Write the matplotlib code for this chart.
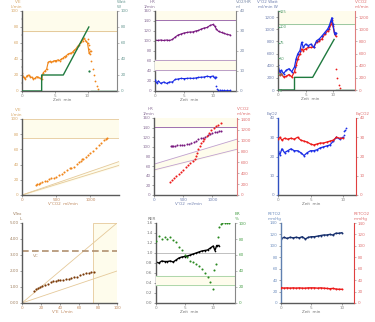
import matplotlib
matplotlib.use("Agg")
import matplotlib.pyplot as plt
import numpy as np

# ---------------- data ----------------
# Panel 1: VE and work vs time
t1 = [0,0.25,0.5,0.75,1,1.25,1.5,1.75,2,2.25,2.5,2.75,3,3.25,3.5,3.75,4,4.25,4.5,4.75,5,5.25,5.5,5.75,6,6.25,6.5,6.75,7,7.25,7.5,7.75,8,8.25,8.5,8.75,9,9.25,9.5,9.75,10,10.25,10.5]
ve1 = [22,17,15,19,20,18,17,15,16,18,17,16,15,23,25,27,36,37,36,37,38,38,39,38,40,41,43,44,46,47,47,49,51,53,56,58,61,63,66,62,60,47,50]
t1_rec = [10.1,10.2,10.3,10.4,10.6,10.8,11.0,11.2,11.4,11.6]
ve1_rec = [65,58,52,46,38,28,20,12,6,2]
t_work = [0,3,3,6.3,10.2]
work = [0,0,20,20,80]
t_work_rec = [10.3]
work_rec = [25]
t_work_end = [10.5,14.5]
work_end = [0,0]

# Panel 2: HR and O2 pulse vs time
t2 = [0,0.5,1,1.5,2,2.5,3,3.5,4,4.5,5,5.5,6,6.5,7,7.5,8,8.5,9,9.5,10,10.3,10.6,11,11.5,12,12.5,13]
hr2 = [102,101,102,101,102,101,103,108,112,114,116,117,118,118,120,121,124,126,127,131,133,130,124,119,117,115,113,112]
t2p = [0,0.3,0.6,1,1.5,2,2.5,3,3.5,4,4.5,5,5.5,6,6.5,7,7.5,8,8.5,9,9.5,10,10.3,10.5]
o2p = [5.5,4.0,5.0,3.8,4.5,3.8,4.5,4.5,5.8,6.0,6.3,6.2,6.3,6.4,6.3,6.5,6.8,6.9,7.0,7.4,7.1,7.5,6.5,7.0]
t2p_rec = [10.55,10.7,10.9,11.2,11.6,12.0,12.5,13.0]
o2p_rec = [2.5,1.2,0.6,0.4,0.3,0.3,0.3,0.3]

# Panel 3: VO2, VCO2 vs time
t3 = [0,0.3,0.6,1,1.5,2,2.5,3,3.3,3.6,4,4.3,4.6,5,5.5,6,6.5,7,7.5,8,8.5,9,9.3,9.6,9.8,10,10.3,10.5]
vo2_3 = [405,300,325,270,325,350,300,380,515,595,650,785,700,755,730,755,700,810,840,890,945,1000,1050,1135,1190,1080,920,945]
vco2_3 = [300,245,270,215,225,255,215,300,405,515,595,675,650,675,700,700,710,785,810,840,920,970,1000,1080,1160,1050,920,890]
t3_rec = [10.6,10.75,11.0,11.3]
vo2_3rec = [350,190,80,25]

# Panel 4: VE vs VCO2
vco2_4 = [200,220,250,270,300,330,360,400,430,470,500,540,580,620,660,700,720,760,800,830,860,880,900,930,960,1000,1040,1080,1120,1160,1200,1230,1250]
ve_4 = [13,14,15,15.5,17,18,19,21,22,23,24,26,28,30,33,35,35,37,41,43,45,47,48,50,52,55,58,62,66,69,72,74,75]

# Panel 5: HR and VCO2 vs VO2
vo2_5 = [290,310,330,360,400,440,480,520,560,600,640,680,720,760,800,840,880,920,960,1000,1040,1080,1120,1150]
hr_5 = [102,102,101,102,103,103,104,104,105,107,109,111,113,116,118,119,121,124,126,128,130,131,132,133]
vo2_5r = [270,300,340,380,420,460,500,540,580,620,660,700,720,740,760,780,800,830,860,900,940,980,1020,1060,1100,1150]
vco2_5r = [240,270,310,350,390,430,470,510,550,590,630,670,720,780,850,910,950,1000,1040,1090,1140,1190,1230,1270,1300,1330]

# Panel 6: EqO2, EqCO2 vs time
t6 = [0,0.3,0.6,1,1.5,2,2.5,3,3.5,4,4.5,5,5.5,6,6.5,7,7.5,8,8.5,9,9.5,10]
eqo2 = [23,21,24,22,23,24,23,23,22,20.5,22,23,23,23.5,24.5,25,25.5,26,28,30,29,30]
eqco2 = [29,30,28.5,29.5,29,29.5,29,30,28.5,28,27.5,26.5,26,26.5,27,27,27.5,28,28.5,30,29.5,29.5]
t6_end = [10.1,10.2,10.3,10.4]
eqo2_end = [31,33,34,35]

# Panel 7: VT vs VE
ve_7 = [13,15,17,19,21,24,27,30,33,36,38,40,43,46,49,52,55,58,61,64,67,70,73,76]
vt_7 = [0.75,0.85,0.95,1.0,1.05,1.12,1.2,1.3,1.35,1.4,1.42,1.45,1.43,1.48,1.52,1.55,1.6,1.65,1.72,1.8,1.85,1.9,1.93,1.95]

# Panel 8: RER and BR vs time
t8 = [0,0.5,1,1.5,2,2.5,3,3.5,4,4.5,5,5.5,6,6.5,7,7.5,8,8.5,9,9.5,10,10.3,10.6,11]
rer8 = [0.82,0.80,0.84,0.83,0.83,0.84,0.82,0.86,0.90,0.92,0.93,0.94,0.96,0.98,1.00,1.02,1.04,1.05,1.06,1.10,1.14,1.05,1.15,1.15]
t8b = [0,0.5,1,1.5,2,2.5,3,3.5,4,4.5,5,5.5,6,6.5,7,7.5,8,8.5,9,9.5,10,10.2,10.5]
br8 = [78,84,80,82,80,82,79,76,70,66,60,57,53,51,49,46,43,38,32,26,17,41,49]
t8b_rec = [10.8,11.0,11.3,11.6,12.0,12.4,12.7]
br8_rec = [82,95,99,100,100,100,100]

# Panel 9: PETO2, PETCO2 vs time
t9 = [0,0.5,1,1.5,2,2.5,3,3.5,4,4.5,5,5.5,6,6.5,7,7.5,8,8.5,9,9.5,10]
peto2 = [112,115,113,115,114,115,114,116,112,115,116,116,117,118,119,119,120,119,122,122,123]
petco2 = [27,26,26.5,26,26.5,26,26.5,26,26,26.5,26.5,26.5,26,26.5,26,25.5,25,25.5,24.5,24,24]

# ---------------- style ----------------
FS = 3.0
CREAM = '#fefcec'
TAN = '#e5c99a'
SPINE = '#5a5a5a'
ORANGE = '#f0861a'
GREEN = '#1f7a3f'
PURPLE = '#7a1a80'
BLUE = '#1a2ce6'
RED = '#ec1a1a'
BROWN = '#7a3a08'

W, H = 375, 322
fig = plt.figure(figsize=(W/100, H/100), dpi=100)

def mkax(x0, y0, x1, y1):
    ax = fig.add_axes([x0/W, 1 - y1/H, (x1-x0)/W, (y1-y0)/H])
    ax.set_facecolor('white')
    ax.spines['top'].set_visible(False)
    ax.spines['right'].set_visible(False)
    for s in ['left', 'bottom']:
        ax.spines[s].set_color(SPINE)
        ax.spines[s].set_linewidth(1.0)
    ax.tick_params(labelsize=FS, length=1.5, width=0.4, pad=1, colors=SPINE)
    ax.tick_params(which='minor', length=1.0, width=0.3, colors=SPINE)
    return ax

def twin(ax, color):
    a2 = ax.twinx()
    for s in ['top', 'left', 'bottom']:
        a2.spines[s].set_visible(False)
    a2.spines['right'].set_color('#888888')
    a2.spines['right'].set_linewidth(0.8)
    a2.tick_params(labelsize=FS, length=1.5, width=0.4, pad=1, colors='#888888', labelcolor=color)
    return a2

def toplabel(ax, txt, color, side='left'):
    x = 0 if side == 'left' else 1
    ha = 'right' if side == 'left' else 'left'
    ax.text(x, 1.03, txt, transform=ax.transAxes, fontsize=FS, color=color,
            ha=ha, va='bottom', linespacing=1.1)

def xlabel(ax, txt, color='#777777'):
    ax.text(0.42, -0.09, txt, transform=ax.transAxes, fontsize=FS, color=color,
            ha='center', va='top')

def series(ax, x, y, color, ms=1.3, lw=0.8, ls='-'):
    ax.plot(x, y, color=color, lw=lw, ls=ls, marker='o', ms=ms, mec=color, mew=0)

def dots(ax, x, y, color, ms=1.3):
    ax.plot(x, y, ls='none', marker='o', ms=ms, color=color, mew=0)

# ---------- Panel 1 ----------
ax = mkax(22, 11, 117, 91)
ax.set_xlim(0, 14.5); ax.set_ylim(0, 100)
ax.axhspan(75, 100, color=CREAM, zorder=0)
ax.axhline(75, color=TAN, lw=0.7)
series(ax, t1, ve1, ORANGE)
dots(ax, t1_rec, ve1_rec, ORANGE)
ax.set_xticks([0, 5, 10]); ax.set_xticks(range(0, 15), minor=True)
ax.set_yticks(range(0, 101, 20)); ax.set_yticks(range(0, 101, 10), minor=True)
ax.tick_params(axis='y', labelcolor='#d8a868')
ax.tick_params(axis='x', labelcolor='#888888')
a2 = twin(ax, '#6a9a94')
a2.set_ylim(0, 100)
a2.set_yticks(range(0, 101, 20))
a2.plot(t_work, work, color=GREEN, lw=1.0)
dots(a2, t_work_rec, work_rec, GREEN, ms=1.6)
a2.plot(t_work_end, work_end, color=GREEN, lw=1.0)
toplabel(ax, "V'E\nL/min", '#d8a868')
toplabel(a2, "Watt\nW", '#6a9a94', 'right')
xlabel(ax, 'Zeit  min')

# ---------- Panel 2 ----------
ax = mkax(155, 11, 236, 91)
ax.set_xlim(0, 14); ax.set_ylim(0, 160)
ax.axhspan(142, 160, color=CREAM, zorder=0)
ax.axhline(142, color='#a070b0', lw=0.7)
series(ax, t2, hr2, PURPLE)
ax.set_xticks([0, 5, 10]); ax.set_xticks(range(0, 15), minor=True)
ax.set_yticks(range(0, 161, 20))
ax.tick_params(axis='y', labelcolor='#8a7098')
ax.tick_params(axis='x', labelcolor='#888888')
a2 = twin(ax, '#7a8aa8')
a2.set_ylim(0, 40)
a2.set_yticks(range(0, 41, 10))
a2.axhspan(10.7, 15.7, color=CREAM, zorder=0)
a2.axhline(10.7, color='#b090c0', lw=0.6)
a2.axhline(15.7, color='#b090c0', lw=0.6)
series(a2, t2p, o2p, BLUE)
dots(a2, t2p_rec, o2p_rec, BLUE)
a2.plot(t2p_rec[-5:], o2p_rec[-5:], color=BLUE, lw=0.6)
toplabel(ax, "HR\n1/min", '#8a7098')
toplabel(a2, "VO2/HR\nml", '#7a8aa8', 'right')
xlabel(ax, 'Zeit  min')

# ---------- Panel 3 ----------
ax = mkax(278, 11, 355, 90)
ax.set_xlim(0, 14); ax.set_ylim(0, 1300)
ax.axhspan(1080, 1300, color=CREAM, zorder=0)
ax.axhline(1080, color='#9ac8a0', lw=0.7)
series(ax, t3, vco2_3, RED, ms=1.4, lw=0.9)
series(ax, t3, vo2_3, BLUE, ms=1.4, lw=0.9)
dots(ax, t3_rec, vo2_3rec, RED)
ax.set_xticks([0, 5, 10]); ax.set_xticks(range(0, 15), minor=True)
ax.set_yticks(range(0, 1201, 200))
ax.tick_params(axis='y', labelcolor='#7080b0')
ax.tick_params(axis='x', labelcolor='#888888')
aw = ax.twinx()
aw.set_ylim(0, 125)
for s in aw.spines.values():
    s.set_visible(False)
aw.yaxis.tick_left()
aw.set_yticks(range(0, 126, 25))
aw.tick_params(axis='y', direction='in', pad=-1, labelsize=2.6, length=1.5,
               colors='#5aa070', labelcolor='#5aa070')
for lab in aw.get_yticklabels():
    lab.set_horizontalalignment('left')
aw.plot(t_work, work, color=GREEN, lw=1.0)
aw.plot(t_work_end, work_end, color=GREEN, lw=1.0)
a2 = twin(ax, '#e07070')
a2.set_ylim(0, 1300)
a2.set_yticks(range(0, 1201, 200))
a2.spines['right'].set_color('#e08080')
toplabel(ax, "V'O2 Watt\nml/min W", '#7080b0')
toplabel(a2, "V'CO2\nml/min", '#e07070', 'right')
xlabel(ax, 'Zeit  min')

# ---------- Panel 4 ----------
ax = mkax(22, 119, 119, 195)
ax.set_xlim(0, 1420); ax.set_ylim(0, 100)
ax.add_patch(plt.Rectangle((0, 75), 1420, 25, facecolor=CREAM, edgecolor=TAN, lw=0.6, zorder=0))
xs = np.array([0, 1420])
ax.fill_between(xs, xs * 39/1420, xs * 44/1420, color=CREAM, zorder=0)
ax.plot(xs, xs * 39/1420, color=TAN, lw=0.6)
ax.plot(xs, xs * 44/1420, color=TAN, lw=0.6)
dots(ax, vco2_4, ve_4, ORANGE, ms=1.5)
ax.set_xticks([0, 500, 1000]); ax.set_xticks(range(0, 1401, 100), minor=True)
ax.set_yticks(range(0, 101, 20))
ax.tick_params(axis='y', labelcolor='#d8a868')
ax.tick_params(axis='x', labelcolor='#c08a60')
toplabel(ax, "V'E\nL/min", '#d8a868')
xlabel(ax, "V'CO2  ml/min", '#c08a60')

# ---------- Panel 5 ----------
ax = mkax(154, 118, 237, 195)
ax.set_xlim(0, 1420); ax.set_ylim(0, 160)
ax.axhspan(142, 160, color=CREAM, zorder=0)
ax.axhline(142, color='#a070b0', lw=0.7)
ax.fill_between(xs, 52 + xs * 43/1420, 64 + xs * 52/1420, color=CREAM, zorder=0)
ax.plot(xs, 52 + xs * 43/1420, color='#c0a0d0', lw=0.6)
ax.plot(xs, 64 + xs * 52/1420, color='#c0a0d0', lw=0.6)
dots(ax, vo2_5, hr_5, PURPLE, ms=1.5)
ax.set_xticks([0, 500, 1000]); ax.set_xticks(range(0, 1401, 100), minor=True)
ax.set_yticks(range(0, 161, 20))
ax.tick_params(axis='y', labelcolor='#8a7098')
ax.tick_params(axis='x', labelcolor='#7080b0')
a2 = twin(ax, '#e07070')
a2.set_ylim(0, 1420)
a2.set_yticks(range(0, 1401, 200))
a2.spines['right'].set_color('#e08080')
dots(a2, vo2_5r, vco2_5r, RED, ms=1.5)
toplabel(ax, "HR\n1/min", '#8a7098')
toplabel(a2, "V'CO2\nml/min", '#e07070', 'right')
xlabel(ax, "V'O2  ml/min", '#7080b0')

# ---------- Panel 6 ----------
ax = mkax(278, 118, 356, 195)
ax.set_xlim(0, 12); ax.set_ylim(0, 40)
series(ax, t6, eqo2, BLUE, ms=1.4, lw=0.9)
dots(ax, t6_end, eqo2_end, BLUE)
ax.spines['left'].set_color('#3050c0')
ax.set_xticks([0, 5, 10]); ax.set_xticks(range(0, 13), minor=True)
ax.set_yticks(range(0, 41, 10))
ax.tick_params(axis='y', labelcolor='#7080b0', colors='#3050c0')
ax.tick_params(axis='x', labelcolor='#888888')
a2 = twin(ax, '#e07070')
a2.set_ylim(0, 40)
a2.set_yticks(range(0, 41, 10))
a2.spines['right'].set_color('#e04040')
series(a2, t6, eqco2, RED, ms=1.4, lw=0.9)
toplabel(ax, "EqO2", '#7080b0')
toplabel(a2, "EqCO2", '#e07070', 'right')
xlabel(ax, 'Zeit  min')

# ---------- Panel 7 ----------
ax = mkax(22, 223, 117, 303)
ax.set_xlim(0, 100); ax.set_ylim(0, 5)
ax.add_patch(plt.Rectangle((75, 0), 25, 5, facecolor=CREAM, edgecolor=TAN, lw=0.6, zorder=0))
xv = np.array([0, 100])
ax.plot(xv, xv * 5/100, color=TAN, lw=0.6)
ax.plot(xv, xv * 2/100, color=TAN, lw=0.6)
ax.axhline(3.24, color='#b09070', lw=1.2, ls=(0, (4, 2)))
ax.text(12, 3.05, 'VC', fontsize=FS, color='#b09070', va='top')
dots(ax, ve_7, vt_7, BROWN, ms=1.6)
ax.set_xticks(range(0, 101, 20)); ax.set_xticks(range(0, 101, 10), minor=True)
ax.set_yticks(range(0, 6))
ax.set_yticklabels([f'{v:.2f}' for v in range(0, 6)])
ax.tick_params(axis='y', labelcolor='#a08060')
ax.tick_params(axis='x', labelcolor='#c08a60')
toplabel(ax, "VTex\nL", '#a08060')
xlabel(ax, "V'E  L/min", '#c08a60')

# ---------- Panel 8 ----------
ax = mkax(156, 223, 235, 303)
ax.set_xlim(0, 13.8); ax.set_ylim(0, 1.6)
ax.axhline(1.0, color='#c0c0c0', lw=0.7)
series(ax, t8, rer8, 'black', ms=1.2, lw=1.0)
ax.set_xticks([0, 5, 10]); ax.set_xticks(range(0, 14), minor=True)
ax.set_yticks(np.arange(0, 1.61, 0.2))
ax.set_yticklabels([f'{v:.1f}' for v in np.arange(0, 1.61, 0.2)])
ax.tick_params(axis='y', labelcolor='#777777')
ax.tick_params(axis='x', labelcolor='#888888')
a2 = twin(ax, '#4aa04a')
a2.set_ylim(0, 100)
a2.set_yticks(range(0, 101, 20))
a2.axhspan(22, 34, color=CREAM, zorder=0)
a2.axhline(22, color='#a0d0a0', lw=0.6)
a2.axhline(34, color='#a0d0a0', lw=0.6)
dots(a2, t8b, br8, '#2a8a20', ms=1.5)
dots(a2, t8b_rec, br8_rec, '#2a8a20', ms=1.5)
toplabel(ax, "RER", '#777777')
toplabel(a2, "BR\n%", '#4aa04a', 'right')
xlabel(ax, 'Zeit  min')

# ---------- Panel 9 ----------
ax = mkax(281, 223, 354, 303)
ax.set_xlim(0, 12); ax.set_ylim(0, 140)
series(ax, t9, peto2, '#17306e', ms=1.4, lw=1.0)
ax.spines['left'].set_color('#6080b0')
ax.set_xticks([0, 5, 10]); ax.set_xticks(range(0, 13), minor=True)
ax.set_yticks(range(0, 141, 20))
ax.tick_params(axis='y', labelcolor='#7090c0')
ax.tick_params(axis='x', labelcolor='#888888')
a2 = twin(ax, '#e07070')
a2.set_ylim(0, 140)
a2.set_yticks(range(0, 141, 20))
a2.spines['right'].set_color('#e04040')
series(a2, t9, petco2, RED, ms=1.4, lw=1.0)
toplabel(ax, "PETO2\nmmHg", '#7090c0')
toplabel(a2, "PETCO2\nmmHg", '#e07070', 'right')
xlabel(ax, 'Zeit  min')

fig.savefig('out.png', dpi=100)
